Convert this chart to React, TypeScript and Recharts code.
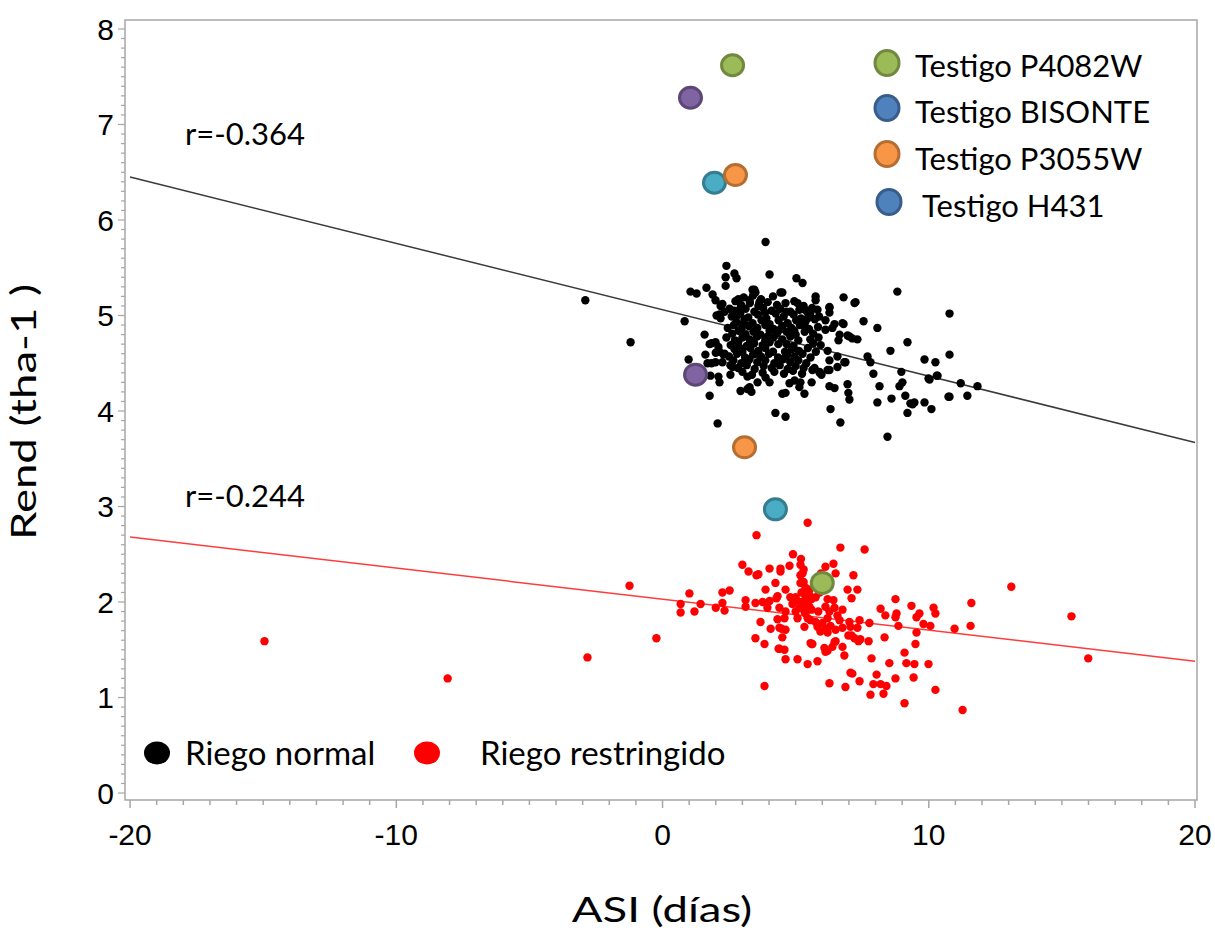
import {
  ReferenceArea,
  ReferenceLine,
  Scatter,
  ScatterChart,
  XAxis,
  YAxis,
} from 'recharts';

const W = 1215;
const H = 935;

const FRAME = '#a6a6a6';
const TICK_FONT = '"Liberation Sans", Arial, sans-serif';
const TEXT_FONT = 'Lato, "Open Sans", sans-serif';

// ---- ejes ----
const X_DOMAIN: [number, number] = [-20.19, 20.075];
const Y_DOMAIN: [number, number] = [-0.073, 8.094];
const X_MAJOR = [-20, -10, 0, 10, 20];
const Y_MAJOR = [0, 1, 2, 3, 4, 5, 6, 7, 8];
const X_MINOR_PER_UNIT = 1; // una marca por día
const Y_MINOR_PER_UNIT = 10; // una marca cada 0.1 t/ha

// ---- rectas de regresión (extremos en x=-20 y x=20) ----
const FIT_NORMAL = [
  { x: -20, y: 6.45 },
  { x: 20, y: 3.67 },
];
const FIT_RESTRINGIDO = [
  { x: -20, y: 2.68 },
  { x: 20, y: 1.38 },
];

// ---- riego normal (ASI, rendimiento) ----
const NORMAL: [number, number][] = [
  [-2.9, 5.16], [-1.2, 4.72], [3.87, 5.77], [0.83, 4.94], [0.98, 4.54], [1.77, 4.16],
  [2.07, 3.87], [4.24, 3.98], [4.62, 3.94], [6.68, 3.88], [8.45, 3.73], [8.82, 5.25],
  [10.78, 5.02], [10.78, 4.59], [11.45, 4.16], [11.83, 4.26], [11.2, 4.29], [10.78, 4.15],
  [10.3, 4.37], [10.25, 4.51], [9.84, 4.54], [10.03, 4.33], [10.1, 4.02], [9.84, 4.09],
  [9.2, 4.72], [9.31, 4.08], [9.2, 3.98], [9.12, 4.16], [8.97, 4.41], [9.01, 4.3],
  [8.9, 4.26], [8.56, 4.63], [8.6, 4.13], [8.07, 4.87], [8.15, 4.26], [8.07, 4.09],
  [7.92, 4.39], [7.81, 4.51], [7.7, 4.57], [7.55, 4.94], [7.25, 5.14], [6.8, 5.19],
  [7.32, 4.75], [7.02, 4.78], [6.87, 4.51], [6.95, 4.28], [6.98, 4.19], [7.02, 4.12],
  [6.31, 4.02], [6.27, 4.26], [6.8, 4.91], [6.57, 4.46], [6.57, 4.57], [6.2, 4.63],
  [5.75, 5.2], [5.75, 5.16], [5.26, 5.34], [5.03, 5.39], [4.02, 5.43], [4.5, 5.24],
  [5.07, 5.13], [6.27, 5.08], [3.45, 5.27], [2.4, 5.52], [2.37, 5.4], [2.7, 5.44],
  [2.78, 5.39], [2.37, 5.31], [1.05, 5.25], [1.28, 5.23], [1.65, 5.29], [1.88, 5.22],
  [1.99, 5.16], [2.14, 5.01], [2.25, 5.12], [2.74, 5.15], [1.58, 4.8], [1.61, 4.59],
  [1.77, 4.7], [1.99, 4.72], [2.14, 4.62], [2.29, 4.59], [1.69, 4.5], [1.99, 4.51],
  [1.8, 4.37], [2.14, 4.3], [2.55, 4.38], [2.55, 4.48], [2.93, 4.21], [3.34, 4.2],
  [3.27, 4.25], [3.19, 4.36], [3.57, 4.3], [3.76, 4.4], [4.02, 4.3], [4.5, 4.18],
  [4.77, 4.29], [5.18, 4.3], [5.33, 4.18], [5.6, 4.3], [5.9, 4.41], [6.27, 4.43],
  [5.97, 4.38], [5.63, 4.43], [2.03, 5.0], [2.18, 4.97], [2.33, 5.04], [2.18, 5.1],
  [2.52, 5.07], [2.85, 5.17], [2.89, 5.06], [3.38, 5.27], [3.49, 5.24], [3.27, 5.16],
  [3.64, 5.14], [4.43, 5.24], [1.84, 4.71], [2.1, 4.67], [2.0, 4.61], [2.33, 4.6],
  [1.84, 4.5], [2.25, 4.51], [2.63, 4.46], [2.1, 4.36], [3.19, 4.23], [4.62, 4.19],
  [4.96, 4.32], [5.14, 4.25], [3.87, 4.35], [7.21, 5.13], [6.76, 4.92], [6.95, 4.79],
  [7.13, 4.76], [6.61, 4.74], [6.65, 4.8], [6.12, 4.95], [6.27, 5.09], [6.27, 5.03],
  [6.12, 4.85], [6.38, 4.87], [6.46, 4.91], [5.82, 5.06], [5.45, 5.03], [5.45, 4.97],
  [5.14, 5.06], [9.99, 4.34], [10.33, 4.37], [6.46, 4.24], [9.39, 4.07], [9.46, 4.09],
  [10.74, 4.15], [6.83, 4.51], [6.2, 4.43], [5.9, 4.4], [5.71, 4.45], [6.27, 4.53],
  // núcleo denso
  [3.05, 5.19], [3.7, 5.17], [4.15, 5.2], [3.4, 5.21],
  [2.95, 5.11], [3.28, 5.13], [3.6, 5.1], [3.95, 5.14], [4.3, 5.11], [4.62, 5.13], [5.3, 5.1], [4.95, 5.15],
  [2.7, 5.05], [3.12, 5.07], [3.45, 5.04], [3.78, 5.08], [4.1, 5.05], [4.42, 5.07], [4.8, 5.04], [5.35, 5.06], [5.62, 5.08],
  [2.6, 4.99], [2.92, 5.02], [3.22, 4.98], [3.58, 5.01], [3.9, 4.97], [4.25, 5.02], [4.55, 4.99], [4.92, 5.01], [5.2, 4.97], [5.55, 5.02], [5.88, 4.99],
  [2.78, 4.93], [3.08, 4.96], [3.38, 4.92], [3.72, 4.95], [4.02, 4.91], [4.36, 4.95], [4.7, 4.92], [5.02, 4.95], [5.36, 4.93], [5.72, 4.96],
  [2.45, 4.87], [2.68, 4.9], [2.97, 4.86], [3.24, 4.89], [3.56, 4.87], [3.86, 4.9], [4.17, 4.86], [4.5, 4.89], [4.84, 4.87], [5.16, 4.9], [5.5, 4.86], [5.84, 4.88],
  [2.62, 4.81], [2.86, 4.84], [3.12, 4.8], [3.42, 4.83], [3.68, 4.8], [4.02, 4.84], [4.3, 4.81], [4.66, 4.83], [5.0, 4.8], [5.34, 4.83], [5.66, 4.81],
  [2.4, 4.77], [2.72, 4.74], [3.0, 4.77], [3.27, 4.75], [3.55, 4.78], [3.86, 4.74], [4.16, 4.77], [4.5, 4.75], [4.8, 4.78], [5.55, 4.75], [5.86, 4.77],
  [2.56, 4.69], [2.84, 4.72], [3.16, 4.68], [3.44, 4.71], [3.76, 4.69], [4.02, 4.72], [4.66, 4.7], [4.92, 4.68], [5.66, 4.71], [5.94, 4.69],
  [2.7, 4.65], [3.0, 4.62], [3.3, 4.66], [3.6, 4.63], [3.86, 4.66], [4.6, 4.62], [4.86, 4.65], [5.12, 4.63], [5.46, 4.66], [5.76, 4.62],
  [2.5, 4.57], [2.8, 4.6], [3.1, 4.56], [3.4, 4.59], [3.7, 4.57], [4.0, 4.6], [4.34, 4.56], [4.7, 4.59], [4.96, 4.57], [5.26, 4.6], [5.56, 4.56],
  [2.66, 4.53], [2.96, 4.5], [3.26, 4.54], [3.56, 4.51], [3.86, 4.53], [4.2, 4.5], [4.5, 4.54], [4.8, 4.51], [5.1, 4.53], [5.4, 4.5],
  [2.84, 4.45], [3.16, 4.48], [3.46, 4.44], [3.8, 4.47], [4.1, 4.45], [4.4, 4.48], [4.7, 4.44], [5.0, 4.47], [5.3, 4.45],
  [3.0, 4.41], [3.36, 4.38], [4.2, 4.41], [4.56, 4.39], [4.9, 4.42], [5.24, 4.39],
  [3.0, 4.91], [3.5, 4.85], [4.4, 4.85], [4.95, 4.84], [3.3, 4.73], [3.95, 4.78], [4.35, 4.7],
  [3.5, 4.6], [4.15, 4.62], [2.9, 4.66], [3.2, 4.52], [4.6, 4.55], [5.1, 4.74], [5.3, 4.9],
  [2.8, 5.0], [3.85, 5.03], [4.65, 5.04],
];

// ---- riego restringido ----
const RESTRINGIDO: [number, number][] = [
  [-14.95, 1.59], [-8.07, 1.2], [-2.82, 1.42], [-1.24, 2.17], [-0.23, 1.62], [13.1, 2.16],
  [15.36, 1.85], [15.99, 1.41], [11.27, 0.87], [10.25, 1.08], [9.09, 0.94], [11.6, 1.99],
  [11.57, 1.75], [10.97, 1.72], [7.59, 2.55], [5.45, 2.83], [6.68, 2.57], [3.53, 2.7],
  [3.83, 1.12], [1.01, 2.09], [0.68, 1.98], [0.68, 1.89], [1.2, 1.9], [1.43, 1.98],
  [2.0, 1.94], [2.25, 1.99], [2.33, 1.91], [2.25, 2.1], [2.52, 2.12], [3.0, 2.39],
  [3.23, 2.32], [3.53, 2.28], [3.12, 2.02], [3.12, 1.95], [3.49, 1.99], [3.68, 1.79],
  [3.87, 2.13], [3.49, 1.62], [3.83, 1.56], [4.02, 2.35], [4.24, 2.2], [4.28, 2.04],
  [4.43, 2.35], [4.77, 2.38], [4.62, 2.13], [4.06, 1.72], [4.47, 1.72], [4.5, 1.63],
  [4.36, 1.51], [4.58, 1.5], [4.62, 1.4], [5.07, 1.4], [5.45, 1.35], [5.82, 1.38],
  [5.6, 1.56], [5.18, 2.39], [5.26, 2.3], [5.3, 2.21], [6.12, 2.37], [6.42, 2.4],
  [6.5, 2.3], [7.17, 2.28], [6.95, 2.13], [7.32, 2.13], [7.1, 2.04], [6.08, 1.52],
  [6.27, 1.15], [6.87, 1.11], [7.06, 1.26], [6.76, 1.53], [6.83, 1.44], [6.46, 1.58],
  [7.1, 1.65], [7.36, 1.59], [3.6, 2.29], [4.43, 2.32], [5.3, 2.34], [5.18, 2.28],
  [5.18, 2.2], [5.37, 2.15], [5.22, 2.1], [3.76, 2.0], [4.02, 2.01], [3.94, 1.94],
  [4.32, 2.06], [4.39, 1.94], [4.32, 1.82], [4.62, 1.9], [4.58, 1.83], [4.88, 1.98],
  [5.14, 1.94], [5.07, 1.83], [5.33, 1.9], [5.45, 1.83], [5.33, 1.74], [4.39, 1.73],
  [4.62, 1.71], [4.39, 1.51], [5.56, 1.57], [5.52, 2.13], [5.37, 2.04], [5.52, 1.95],
  [5.37, 1.88], [5.56, 1.81], [5.6, 2.03], [6.2, 2.03], [6.42, 2.02], [6.12, 1.95],
  [6.46, 1.94], [6.27, 1.9], [6.76, 1.92], [6.57, 1.86], [6.2, 1.83], [6.65, 1.81],
  [7.02, 1.79], [7.4, 1.81], [7.77, 1.78], [7.32, 1.73], [7.06, 1.74], [6.76, 1.73],
  [6.31, 1.75], [6.01, 1.78], [5.82, 1.74], [5.93, 1.69], [5.75, 1.79], [6.12, 1.72],
  [6.2, 1.68], [6.5, 1.71], [6.98, 1.65], [7.21, 1.62], [7.43, 1.61], [7.74, 1.59],
  [6.5, 1.59], [6.38, 1.53], [6.2, 1.49], [5.63, 1.56], [6.12, 1.48], [7.85, 1.41],
  [8.34, 1.63], [8.19, 1.93], [8.37, 1.86], [8.75, 2.03], [8.79, 1.88], [8.75, 1.84],
  [8.86, 1.75], [9.35, 1.96], [9.65, 1.88], [9.54, 1.84], [9.8, 1.77], [10.06, 1.75],
  [10.18, 1.94], [10.25, 1.88], [9.54, 1.68], [9.5, 1.56], [9.09, 1.47], [9.16, 1.36],
  [9.46, 1.35], [9.99, 1.35], [8.52, 1.36], [7.13, 1.25], [8.04, 1.24], [8.75, 1.2],
  [9.43, 1.21], [7.4, 1.17], [7.92, 1.14], [8.19, 1.14], [8.41, 1.12], [7.81, 1.03],
  [8.3, 1.04], [5.0, 2.05], [5.15, 2.0], [5.45, 2.0], [5.6, 1.92], [5.3, 1.97],
  [5.5, 2.08], [5.75, 2.05], [5.85, 1.9], [5.0, 1.9], [4.8, 2.05], [5.7, 2.2],
  [5.9, 2.1], [5.2, 2.45], [4.9, 2.5], [5.95, 2.3],
];

// ---- testigos (normal, restringido) ----
const TESTIGO_P4082W: [number, number][] = [[2.63, 7.62], [6.0, 2.2]];
const TESTIGO_H431: [number, number][] = [[1.05, 7.28], [1.24, 4.38]];
const TESTIGO_BISONTE: [number, number][] = [[1.95, 6.39], [4.24, 2.97]];
const TESTIGO_P3055W: [number, number][] = [[2.74, 6.47], [3.08, 3.62]];

const LEGEND_TESTIGOS = [
  { name: 'Testigo P4082W', fill: '#9bbb59', stroke: '#71893f' },
  { name: 'Testigo BISONTE', fill: '#4f81bd', stroke: '#385d8a' },
  { name: 'Testigo P3055W', fill: '#f79646', stroke: '#b66d31' },
  { name: 'Testigo H431', fill: '#4f81bd', stroke: '#385d8a' },
];

const toPts = (a: [number, number][]) => a.map(([x, y]) => ({ x, y }));

const buildTicks = (major: number[], perUnit: number) => {
  const out: number[] = [];
  const lo = major[0] * perUnit;
  const hi = major[major.length - 1] * perUnit;
  for (let i = lo; i <= hi; i++) out.push(i / perUnit);
  return out;
};
const X_TICKS = buildTicks(X_MAJOR, X_MINOR_PER_UNIT);
const Y_TICKS = buildTicks(Y_MAJOR, Y_MINOR_PER_UNIT);
const isMajor = (v: number, major: number[]) => major.some((m) => Math.abs(m - v) < 1e-6);

function XTick({ x, y, payload }: any) {
  const major = isMajor(payload.value, X_MAJOR);
  return (
    <g>
      <line x1={x} x2={x} y1={y} y2={y + (major ? 8 : 5)} stroke={FRAME} strokeWidth={1.5} />
      {major && (
        <text x={x} y={y + 45} textAnchor="middle" fontSize={30} fontFamily={TICK_FONT} fill="#000">
          {payload.value}
        </text>
      )}
    </g>
  );
}

function YTick({ x, y, payload }: any) {
  const major = isMajor(payload.value, Y_MAJOR);
  return (
    <g>
      <line x1={x - (major ? 7 : 4)} x2={x} y1={y} y2={y} stroke={FRAME} strokeWidth={1.2} />
      {major && (
        <text x={x - 11} y={y} dy="0.36em" textAnchor="end" fontSize={30} fontFamily={TICK_FONT} fill="#000">
          {payload.value}
        </text>
      )}
    </g>
  );
}

const dot = (color: string) => (p: any) => <circle cx={p.cx} cy={p.cy} r={4.2} fill={color} />;
const bigDot = (fill: string, stroke: string) => (p: any) => (
  <ellipse cx={p.cx} cy={p.cy} rx={11} ry={10.5} fill={fill} stroke={stroke} strokeWidth={3} />
);

export default function App() {
  return (
    <div style={{ position: 'absolute', left: 0, top: 0, width: W, height: H, background: '#fff' }}>
      <ScatterChart width={W} height={H} margin={{ top: 20, right: 18, bottom: 75, left: 65 }}>
        <XAxis
          type="number"
          dataKey="x"
          domain={X_DOMAIN}
          allowDataOverflow
          ticks={X_TICKS}
          interval={0}
          tickSize={0}
          tickMargin={0}
          tickLine={false}
          axisLine={false}
          tick={<XTick />}
          height={60}
        />
        <YAxis
          type="number"
          dataKey="y"
          domain={Y_DOMAIN}
          allowDataOverflow
          ticks={Y_TICKS}
          interval={0}
          tickSize={0}
          tickMargin={0}
          tickLine={false}
          axisLine={false}
          tick={<YTick />}
          width={60}
        />
        <ReferenceArea
          x1={X_DOMAIN[0]}
          x2={X_DOMAIN[1]}
          y1={Y_DOMAIN[0]}
          y2={Y_DOMAIN[1]}
          fill="none"
          stroke={FRAME}
          strokeWidth={1.5}
          ifOverflow="visible"
        />
        <ReferenceLine segment={FIT_NORMAL} stroke="#3a3a3a" strokeWidth={1.5} />
        <ReferenceLine segment={FIT_RESTRINGIDO} stroke="#ff3b3b" strokeWidth={1.5} />
        <Scatter data={toPts(NORMAL)} shape={dot('#000')} isAnimationActive={false} />
        <Scatter data={toPts(RESTRINGIDO)} shape={dot('#ff0000')} isAnimationActive={false} />
        <Scatter data={toPts(TESTIGO_H431)} shape={bigDot('#8064a2', '#5c4776')} isAnimationActive={false} />
        <Scatter data={toPts(TESTIGO_BISONTE)} shape={bigDot('#4bacc6', '#357d91')} isAnimationActive={false} />
        <Scatter data={toPts(TESTIGO_P3055W)} shape={bigDot('#f79646', '#b66d31')} isAnimationActive={false} />
        <Scatter data={toPts(TESTIGO_P4082W)} shape={bigDot('#9bbb59', '#71893f')} isAnimationActive={false} />
      </ScatterChart>

      {/* textos y leyendas */}
      <svg
        width={W}
        height={H}
        style={{ position: 'absolute', left: 0, top: 0, pointerEvents: 'none' }}
        fontFamily={TEXT_FONT}
      >
        <text x={185} y={145} fontSize={31}>r=-0.364</text>
        <text x={185} y={507} fontSize={31}>r=-0.244</text>

        {LEGEND_TESTIGOS.map((t, i) => (
          <g key={t.name}>
            <ellipse
              cx={i === 3 ? 889 : 887}
              cy={[63, 108, 154, 202][i]}
              rx={12}
              ry={12.5}
              fill={t.fill}
              stroke={t.stroke}
              strokeWidth={3}
            />
            <text x={i === 3 ? 922 : 915} y={[77, 123, 170, 217][i]} fontSize={31}>
              {t.name}
            </text>
          </g>
        ))}

        <ellipse cx={157} cy={753} rx={13} ry={11.5} fill="#000" />
        <text x={185} y={765} fontSize={33}>Riego normal</text>
        <ellipse cx={427} cy={753} rx={13} ry={11.5} fill="#ff0000" />
        <text x={480} y={765} fontSize={33}>Riego restringido</text>

        <text transform="translate(662 922) scale(1.3 1)" textAnchor="middle" fontSize={35}>
          ASI (días)
        </text>
        <text transform="translate(36 412) rotate(-90) scale(1.3 1)" textAnchor="middle" fontSize={35}>
          Rend (tha-1 )
        </text>
      </svg>
    </div>
  );
}
